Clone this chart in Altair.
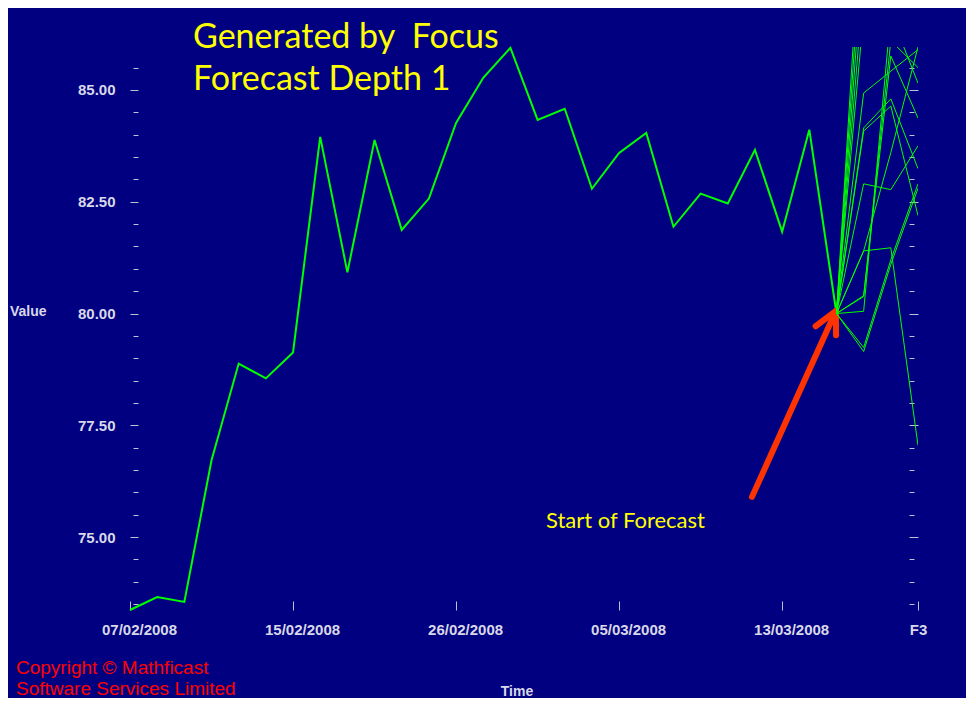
import json
import altair as alt
import pandas as pd

# ---- data ----
main_index = list(range(27))
main_values = [73.37, 73.66, 73.55, 76.72, 78.88, 78.55, 79.13, 83.95, 80.92,
               83.88, 81.87, 82.57, 84.26, 85.27, 85.94, 84.33, 84.58, 82.79,
               83.59, 84.04, 81.94, 82.68, 82.46, 83.66, 81.83, 84.11, 80.00]

x_tick_positions = [0, 6, 12, 18, 24, 29]
x_tick_labels = ["07/02/2008", "15/02/2008", "26/02/2008", "05/03/2008",
                 "13/03/2008", "F3"]

forecast_steps = [26, 27, 28, 29]
forecast_start = 80.00
forecast_f1 = [89.8, 89.0, 88.2, 87.4, 86.7, 84.93, 84.15, 84.08, 82.90, 81.40,
               81.40, 80.38, 80.05, 79.24, 79.15, 80.40]
forecast_f2 = [90.5, 90.0, 89.6, 89.2, 88.6, 85.42, 84.80, 84.64, 82.77, 81.47,
               83.60, 86.10, 86.70, 81.20, 81.10, 85.76]
forecast_f3 = [90.0, 90.0, 89.0, 88.0, 87.0, 85.90, 83.24, 82.19, 83.75, 77.05,
               85.96, 85.50, 85.15, 82.90, 82.80, 84.37]

arrow_x = [22.89, 25.98]
arrow_y = [75.90, 80.06]

y_domain = [73.37, 85.96]
y_tick_values = [73.5, 74.0, 74.5, 75.0, 75.5, 76.0, 76.5, 77.0, 77.5, 78.0,
                 78.5, 79.0, 79.5, 80.0, 80.5, 81.0, 81.5, 82.0, 82.5, 83.0,
                 83.5, 84.0, 84.5, 85.0, 85.5]

# ---- tables ----
main_df = pd.DataFrame({"x": main_index, "y": main_values})
rows = []
for p, (a, b, c) in enumerate(zip(forecast_f1, forecast_f2, forecast_f3)):
    for step, val in zip(forecast_steps, [forecast_start, a, b, c]):
        rows.append({"path": p, "x": step, "y": val})
fc_df = pd.DataFrame(rows)
arrow_df = pd.DataFrame({"x": arrow_x, "y": arrow_y})
head_df = arrow_df.iloc[[1]]

GREEN = "#00FF00"
LABEL = "#D8D8E8"
TICK = "#C0C0D4"

x_label_expr = (f"{json.dumps(x_tick_labels)}"
                f"[indexof({json.dumps(x_tick_positions)}, datum.value)]")
major_test = "abs(datum.value / 2.5 - round(datum.value / 2.5)) < 0.001"

x_enc = alt.X(
    "x:Q",
    scale=alt.Scale(domain=[0, 29], nice=False, zero=False),
    axis=alt.Axis(values=x_tick_positions, labelExpr=x_label_expr, title=None,
                  offset=-9, tickSize=9, labelPadding=12, labelFlush=False,
                  labelOffset={"condition": {"test": "datum.value == 29", "value": 0},
                               "value": 9}),
)
y_scale = alt.Scale(domain=y_domain, nice=False, zero=False)

main_line = alt.Chart(main_df).mark_line(color=GREEN, strokeWidth=2).encode(
    x=x_enc,
    y=alt.Y("y:Q", scale=y_scale,
            axis=alt.Axis(values=y_tick_values, title=None, orient="left",
                          offset=-8, labelFlush=False,
                          tickSize={"condition": {"test": major_test, "value": 8},
                                    "value": 5},
                          labelPadding=15,
                          labelExpr=f"{major_test} ? format(datum.value, '.2f') : ''")),
)

forecast = alt.Chart(fc_df).mark_line(color=GREEN, strokeWidth=1, clip=True).encode(
    x=x_enc,
    y=alt.Y("y:Q", scale=y_scale,
            axis=alt.Axis(values=y_tick_values, title=None, orient="right",
                          offset=-9, labels=False,
                          tickSize={"condition": {"test": major_test, "value": 9},
                                    "value": 5})),
    detail="path:N",
)

arrow_shaft = alt.Chart(arrow_df).mark_line(
    color="#FF3300", strokeWidth=6, strokeCap="round").encode(
    x=x_enc, y=alt.Y("y:Q", scale=y_scale, axis=None))

arrow_head = alt.Chart(head_df).mark_point(
    shape="M -0.55 1 L 0 0 L 0.45 1", filled=False, stroke="#FF3300",
    strokeWidth=6, strokeCap="round", strokeJoin="round", size=2000,
    angle=24, opacity=1).encode(
    x=x_enc, y=alt.Y("y:Q", scale=y_scale, axis=None))


def text_layer(text, x, y, size, color, font, weight="normal", align="left",
               baseline="alphabetic", line_height=None):
    kw = dict(text=text, fontSize=size, color=color, font=font,
              fontWeight=weight, align=align, baseline=baseline)
    if line_height is not None:
        kw["lineHeight"] = line_height
    return alt.Chart(pd.DataFrame({"a": [0]})).mark_text(**kw).encode(
        x=alt.value(x), y=alt.value(y))


title_txt = text_layer(["Generated by\u00a0 Focus", "Forecast Depth 1"], 63, 1, 34,
                       "#FFFF00", "Lato", line_height=42)
start_txt = text_layer("Start of Forecast", 416, 481, 22, "#FFFF00", "Lato")
value_txt = text_layer("Value", -120, 265, 14, LABEL, "Liberation Sans",
                       weight="bold", baseline="middle")
time_txt = text_layer("Time", 387, 645, 14, LABEL, "Liberation Sans",
                      weight="bold", align="center", baseline="middle")
copy_txt = text_layer(["Copyright \u00a9 Mathficast", "Software Services Limited"],
                      -114, 627, 19, "#FF0000", "Liberation Sans", line_height=21)

chart = alt.layer(
    main_line, arrow_shaft, arrow_head, forecast,
    title_txt, start_txt, value_txt, time_txt, copy_txt,
).resolve_axis(y="independent").properties(
    width=788, height=563,
    autosize=alt.AutoSizeParams(type="none"),
    padding={"left": 122, "top": 39, "right": 48, "bottom": 88},
    background="#000080",
).configure_view(stroke=None).configure_axis(
    domain=False, grid=False, labelFont="Liberation Sans",
    labelFontWeight="bold", labelFontSize=15, labelColor=LABEL,
    tickColor=TICK, tickWidth=1,
)

chart.save("out.html", embed_options={"renderer": "svg", "actions": False})
